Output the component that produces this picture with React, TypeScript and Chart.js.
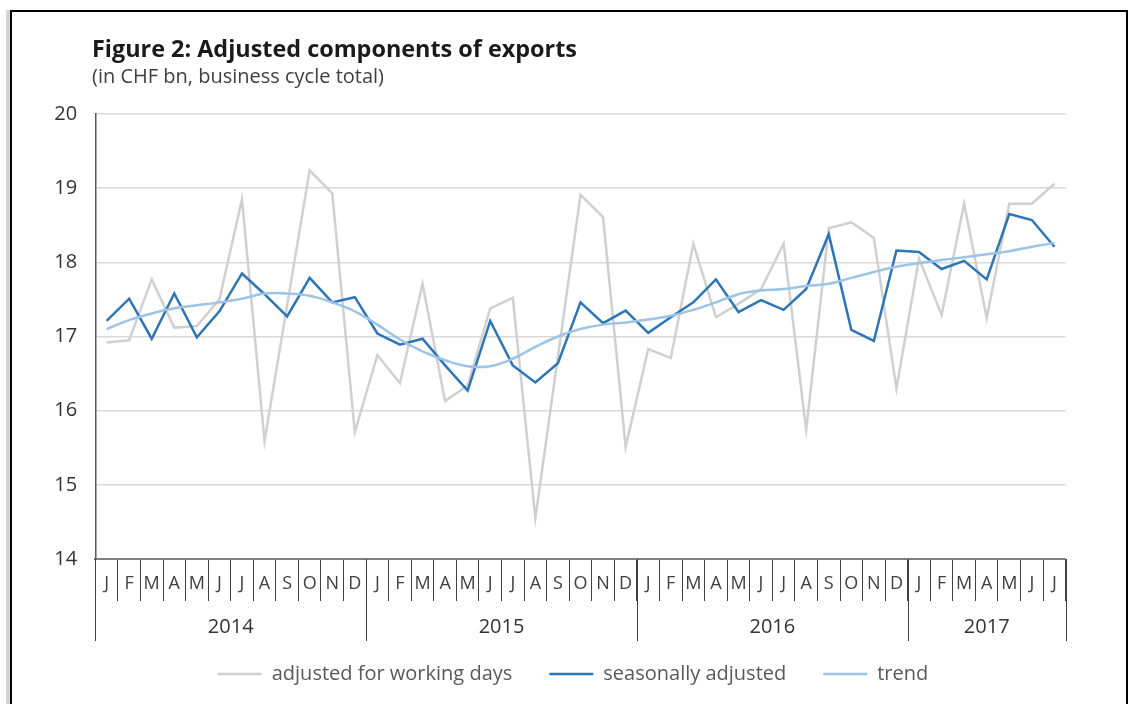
import React, { useEffect, useRef } from 'react';
import { Chart, registerables } from 'chart.js';

Chart.register(...registerables);

const monthLabels = [
  'J', 'F', 'M', 'A', 'M', 'J', 'J', 'A', 'S', 'O', 'N', 'D',
  'J', 'F', 'M', 'A', 'M', 'J', 'J', 'A', 'S', 'O', 'N', 'D',
  'J', 'F', 'M', 'A', 'M', 'J', 'J', 'A', 'S', 'O', 'N', 'D',
  'J', 'F', 'M', 'A', 'M', 'J', 'J',
];
const years = ['2014', '2015', '2016', '2017'];
const monthsPerYear = [12, 12, 12, 7];

const workingDays = [
  16.92, 16.95, 17.77, 17.12, 17.14, 17.5, 18.85, 15.59, 17.42, 19.24, 18.93, 15.71,
  16.75, 16.37, 17.71, 16.13, 16.34, 17.38, 17.52, 14.55, 16.73, 18.91, 18.61, 15.51,
  16.83, 16.71, 18.25, 17.26, 17.44, 17.64, 18.25, 15.74, 18.46, 18.54, 18.33, 16.3,
  18.05, 17.29, 18.79, 17.25, 18.79, 18.79, 19.06,
];
const seasonal = [
  17.21, 17.51, 16.97, 17.58, 16.99, 17.34, 17.85, 17.57, 17.27, 17.79, 17.46, 17.53,
  17.04, 16.89, 16.97, 16.61, 16.27, 17.21, 16.61, 16.38, 16.64, 17.46, 17.18, 17.35,
  17.05, 17.26, 17.46, 17.77, 17.33, 17.49, 17.36, 17.64, 18.38, 17.09, 16.94, 18.16,
  18.14, 17.91, 18.02, 17.77, 18.65, 18.57, 18.21,
];
const trend = [
  17.1, 17.22, 17.31, 17.38, 17.42, 17.46, 17.51, 17.58, 17.58, 17.55, 17.46, 17.34,
  17.16, 16.96, 16.8, 16.68, 16.6, 16.6, 16.7, 16.86, 17.0, 17.1, 17.16, 17.19,
  17.23, 17.28, 17.36, 17.46, 17.57, 17.62, 17.64, 17.68, 17.71, 17.79, 17.87, 17.94,
  17.99, 18.03, 18.07, 18.11, 18.15, 18.21, 18.26,
];
const seriesNames = ['adjusted for working days', 'seasonally adjusted', 'trend'];
const yMin = 14;
const yMax = 20;

const FONT = "'Open Sans', 'Noto Sans', sans-serif";

const yearAxisPlugin = {
  id: 'yearAxis',
  afterDraw(chart: any) {
    const xs = chart.scales.x;
    const ctx = chart.ctx;
    const top = chart.chartArea.bottom;
    const step = xs.getPixelForValue(1) - xs.getPixelForValue(0);
    ctx.save();
    ctx.strokeStyle = '#404040';
    ctx.lineWidth = 1;
    ctx.fillStyle = '#333333';
    ctx.font = `20px ${FONT}`;
    ctx.textAlign = 'center';
    ctx.textBaseline = 'middle';
    let start = 0;
    years.forEach((yr, i) => {
      const end = start + monthsPerYear[i] - 1;
      const left = xs.getPixelForValue(start) - step / 2;
      const right = xs.getPixelForValue(end) + step / 2;
      [left, right].forEach((px) => {
        const ax = Math.round(px) + 0.5;
        ctx.beginPath();
        ctx.moveTo(ax, top);
        ctx.lineTo(ax, top + 82);
        ctx.stroke();
      });
      ctx.fillText(yr, (left + right) / 2, top + 68);
      start = end + 1;
    });
    ctx.restore();
  },
};

export default function App() {
  const ref = useRef<HTMLCanvasElement>(null);

  useEffect(() => {
    if (!ref.current) return;
    const chart = new Chart(ref.current, {
      type: 'line',
      data: {
        labels: monthLabels,
        datasets: [
          {
            label: seriesNames[0],
            data: workingDays,
            borderColor: '#d0d0d0',
            backgroundColor: '#d0d0d0',
            borderWidth: 2.5,
            pointRadius: 0,
            tension: 0,
            order: 3,
          },
          {
            label: seriesNames[1],
            data: seasonal,
            borderColor: '#2e75b6',
            backgroundColor: '#2e75b6',
            borderWidth: 2.5,
            pointRadius: 0,
            tension: 0,
            order: 2,
          },
          {
            label: seriesNames[2],
            data: trend,
            borderColor: '#9dc3e6',
            backgroundColor: '#9dc3e6',
            borderWidth: 2.5,
            pointRadius: 0,
            tension: 0.4,
            order: 1,
          },
        ],
      },
      options: {
        animation: false,
        responsive: false,
        devicePixelRatio: 1,
        layout: { padding: { top: 114, left: 80.3, right: 62.3, bottom: 10 } },
        scales: {
          x: {
            type: 'category',
            offset: true,
            grid: {
              offset: true,
              drawOnChartArea: false,
              drawTicks: true,
              tickLength: 42,
              color: '#404040',
              lineWidth: 1,
            },
            border: { display: true, color: '#7f7f7f', width: 2 },
            ticks: {
              autoSkip: false,
              maxRotation: 0,
              minRotation: 0,
              padding: -28,
              color: '#404040',
              font: { size: 18, family: FONT },
            },
            afterFit: (s: any) => {
              s.height = 68;
            },
          },
          y: {
            min: yMin,
            max: yMax,
            ticks: {
              stepSize: 1,
              mirror: true,
              padding: -41,
              color: '#333333',
              font: { size: 20, family: FONT },
            },
            grid: { color: '#d9d9d9', lineWidth: 1.5, drawTicks: false },
            border: { display: true, color: '#595959', width: 1.5 },
            afterFit: (s: any) => {
              s.width = 15;
            },
          },
        },
        plugins: {
          legend: {
            position: 'bottom',
            labels: {
              usePointStyle: true,
              pointStyle: 'line',
              pointStyleWidth: 44,
              padding: 37,
              color: '#595959',
              font: { size: 20, family: FONT },
              sort: (a: any, b: any) => a.datasetIndex - b.datasetIndex,
            },
          },
          tooltip: { enabled: false },
        },
      },
      plugins: [yearAxisPlugin],
    });
    return () => chart.destroy();
  }, []);

  return (
    <div
      style={{
        position: 'fixed',
        left: 0,
        top: 0,
        width: 1128,
        height: 704,
        overflow: 'hidden',
        background: '#ffffff',
      }}
    >
      <canvas
        ref={ref}
        width={1128}
        height={704}
        style={{ position: 'absolute', left: 0, top: 0, width: 1128, height: 704, display: 'block' }}
      />
      <div style={{ position: 'absolute', left: 6, top: 10, width: 4, height: 694, background: '#d4d4d4' }} />
      <div style={{ position: 'absolute', left: 10, top: 10, width: 2, height: 694, background: '#000' }} />
      <div style={{ position: 'absolute', left: 10, top: 10, width: 1118, height: 2, background: '#000' }} />
      <div style={{ position: 'absolute', left: 1126, top: 10, width: 2, height: 694, background: '#000' }} />
      <div
        style={{
          position: 'absolute',
          left: 92,
          top: 34,
          fontFamily: FONT,
          fontWeight: 700,
          fontSize: 23.4,
          lineHeight: '28px',
          color: '#1a1a1a',
          whiteSpace: 'nowrap',
        }}
      >
        Figure 2: Adjusted components of exports
      </div>
      <div
        style={{
          position: 'absolute',
          left: 92,
          top: 64,
          fontFamily: FONT,
          fontSize: 20,
          lineHeight: '24px',
          color: '#404040',
          whiteSpace: 'nowrap',
        }}
      >
        (in CHF bn, business cycle total)
      </div>
    </div>
  );
}
